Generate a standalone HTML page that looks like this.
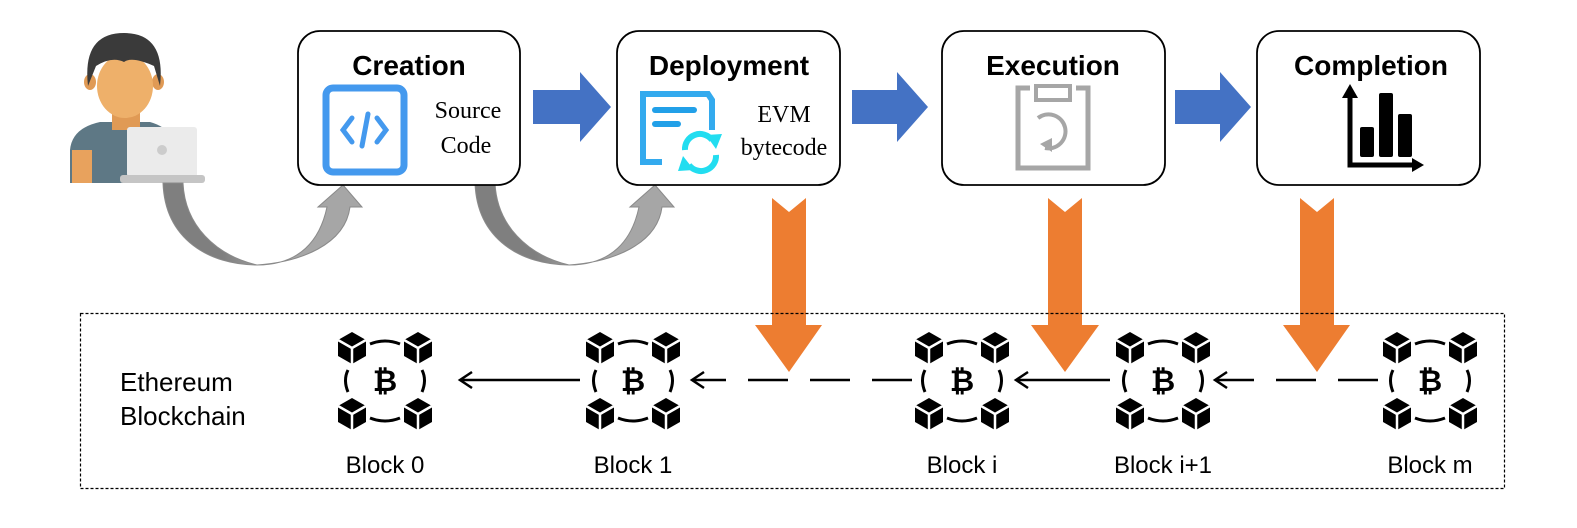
<!DOCTYPE html>
<html><head><meta charset="utf-8"><style>
html,body{margin:0;padding:0;background:#fff;}
svg{display:block}
</style></head><body>
<svg width="1577" height="528" viewBox="0 0 1577 528" xmlns="http://www.w3.org/2000/svg">
<defs>
<g id="cube">
  <polygon points="0,-16 14,-8 14,8 0,16 -14,8 -14,-8" fill="#000"/>
  <polyline points="-14,-8 0,0 14,-8" fill="none" stroke="#fff" stroke-width="2.5"/>
  <line x1="0" y1="0" x2="0" y2="16" stroke="#fff" stroke-width="2.5"/>
</g>
<g id="blk">
  <use href="#cube" x="-33" y="-32"/>
  <use href="#cube" x="33" y="-32"/>
  <use href="#cube" x="-33" y="34"/>
  <use href="#cube" x="33" y="34"/>
  <path d="M-15,-36 Q0,-42 15,-36" fill="none" stroke="#000" stroke-width="3"/>
  <path d="M-15,38 Q0,44 15,38" fill="none" stroke="#000" stroke-width="3"/>
  <path d="M-37,-10 Q-42,0 -37,12" fill="none" stroke="#000" stroke-width="3"/>
  <path d="M37,-10 Q42,0 37,12" fill="none" stroke="#000" stroke-width="3"/>
  <text x="0" y="11" text-anchor="middle" font-family="Liberation Sans, sans-serif" font-weight="bold" font-size="30">₿</text>
</g>
<linearGradient id="gg" x1="0" y1="0" x2="1" y2="0"><stop offset="0.3" stop-color="#7f7f7f"/><stop offset="0.55" stop-color="#a6a6a6"/></linearGradient>
<g id="garrow">
  <path d="M163,183 C165,240 210,265 257,265 C300,265 320,240 327,207 L318,207 L343,185 L362,207 L350,207 C345,245 300,262 257,265 C215,255 185,225 183,183 Z" fill="url(#gg)" stroke="#8a8a8a" stroke-width="1"/>
</g>
</defs>

<!-- person -->
<path d="M70,183 L70,150 Q72,128 100,122 L150,122 Q172,128 180,150 L180,183 Z" fill="#5e7885"/>
<rect x="72" y="150" width="20" height="33" fill="#e8a25d"/>
<rect x="112" y="105" width="28" height="25" fill="#e09a55"/>
<ellipse cx="90" cy="82" rx="6" ry="8" fill="#e09a55"/>
<ellipse cx="158" cy="82" rx="6" ry="8" fill="#e09a55"/>
<ellipse cx="125" cy="86" rx="28" ry="32" fill="#eeb06a"/>
<path d="M88,86 Q82,33 124,33 Q166,33 160,86 L154,66 Q132,56 124,62 Q112,56 96,66 Z" fill="#3a3a3a"/>
<rect x="127" y="127" width="70" height="50" rx="3" fill="#ebebeb"/>
<circle cx="162" cy="150" r="5" fill="#ccc"/>
<rect x="120" y="175" width="85" height="8" rx="3" fill="#c5c5c5"/>

<!-- grey curved arrows -->
<use href="#garrow"/>
<use href="#garrow" x="312" y="0"/>

<!-- boxes -->
<g fill="#fff" stroke="#000" stroke-width="1.8">
<rect x="298" y="31" width="222" height="154" rx="22"/>
<rect x="617" y="31" width="223" height="154" rx="22"/>
<rect x="942" y="31" width="223" height="154" rx="22"/>
<rect x="1257" y="31" width="223" height="154" rx="22"/>
</g>
<g font-family="Liberation Sans, sans-serif" font-weight="bold" font-size="28" text-anchor="middle">
<text x="409" y="75">Creation</text>
<text x="729" y="75">Deployment</text>
<text x="1053" y="75">Execution</text>
<text x="1371" y="75">Completion</text>
</g>
<g font-family="Liberation Serif, serif" font-size="24" text-anchor="middle">
<text x="468" y="118">Source</text>
<text x="466" y="153">Code</text>
<text x="784" y="122">EVM</text>
<text x="784" y="155">bytecode</text>
</g>
<!-- creation icon -->
<rect x="326" y="88" width="78" height="84" rx="7" fill="none" stroke="#4499ee" stroke-width="7"/>
<polyline points="352,118 343,130 352,142" fill="none" stroke="#4499ee" stroke-width="5" stroke-linecap="round"/>
<polyline points="377,118 386,130 377,142" fill="none" stroke="#4499ee" stroke-width="5" stroke-linecap="round"/>
<line x1="368" y1="114" x2="362" y2="146" stroke="#4499ee" stroke-width="5" stroke-linecap="round"/>
<!-- deployment icon -->
<path d="M662,162 L643,162 L643,94 L708,94 L712,100 L712,130" fill="none" stroke="#33aaee" stroke-width="6"/>
<line x1="655" y1="110" x2="694" y2="110" stroke="#22a0e8" stroke-width="6" stroke-linecap="round"/>
<line x1="655" y1="124" x2="678" y2="124" stroke="#22a0e8" stroke-width="6" stroke-linecap="round"/>
<path d="M685,150 A15,15 0 0 1 712,140" fill="none" stroke="#22ddf0" stroke-width="6"/>
<path d="M716,155 A15,15 0 0 1 689,165" fill="none" stroke="#22ddf0" stroke-width="6"/>
<polygon points="706,135 722,134 716,149" fill="#22ddf0"/>
<polygon points="694,170 678,171 683,156" fill="#22ddf0"/>
<!-- execution icon -->
<path d="M1030,88 L1018,88 L1018,168 L1088,168 L1088,88 L1076,88" fill="none" stroke="#a6a6a6" stroke-width="5"/>
<rect x="1036" y="86" width="34" height="14" fill="none" stroke="#a6a6a6" stroke-width="4"/>
<path d="M1045,148 A17,17 0 1 0 1038,118" fill="none" stroke="#a6a6a6" stroke-width="4"/>
<polygon points="1040,144 1052,138 1052,152" fill="#a6a6a6"/>
<!-- completion icon -->
<polyline points="1350,96 1350,165 1414,165" fill="none" stroke="#000" stroke-width="5"/>
<polygon points="1342,98 1350,84 1358,98" fill="#000"/>
<polygon points="1412,158 1424,165 1412,172" fill="#000"/>
<rect x="1360" y="127" width="14" height="30" rx="2" fill="#000"/>
<rect x="1379" y="93" width="14" height="64" rx="2" fill="#000"/>
<rect x="1398" y="114" width="14" height="43" rx="2" fill="#000"/>

<!-- blue arrows -->
<g fill="#4472c4">
<polygon points="533,90 580,90 580,72 611,107 580,142 580,124 533,124"/>
<polygon points="852,90 897,90 897,72 928,107 897,142 897,124 852,124"/>
<polygon points="1175,90 1220,90 1220,72 1251,107 1220,142 1220,124 1175,124"/>
</g>
<!-- orange arrows -->
<g fill="#ed7d31">
<polygon points="772,198 789,212 806,198 806,325 822,325 789,372 755,325 772,325"/>
<polygon points="1048,198 1065,212 1082,198 1082,325 1099,325 1065,372 1031,325 1048,325"/>
<polygon points="1300,198 1317,212 1334,198 1334,325 1350,325 1317,372 1283,325 1300,325"/>
</g>

<!-- dashed box -->
<rect x="80.5" y="313.5" width="1424" height="175" fill="none" stroke="#000" stroke-width="1.2" stroke-dasharray="3,2"/>
<g font-family="Liberation Sans, sans-serif" font-size="26">
<text x="120" y="391">Ethereum</text>
<text x="120" y="425">Blockchain</text>
</g>

<use href="#blk" x="385" y="380"/>
<use href="#blk" x="633" y="380"/>
<use href="#blk" x="962" y="380"/>
<use href="#blk" x="1163" y="380"/>
<use href="#blk" x="1430" y="380"/>

<g stroke="#000" stroke-width="2.5" fill="none">
<line x1="580" y1="380" x2="462" y2="380"/>
<polyline points="472,372 460,380 472,388"/>
<line x1="912" y1="380" x2="694" y2="380" stroke-dasharray="40,22"/>
<polyline points="704,372 692,380 704,388"/>
<line x1="1110" y1="380" x2="1018" y2="380"/>
<polyline points="1028,372 1016,380 1028,388"/>
<line x1="1378" y1="380" x2="1217" y2="380" stroke-dasharray="40,22"/>
<polyline points="1227,372 1215,380 1227,388"/>
</g>
<g font-family="Liberation Sans, sans-serif" font-size="24" text-anchor="middle">
<text x="385" y="473">Block 0</text>
<text x="633" y="473">Block 1</text>
<text x="962" y="473">Block i</text>
<text x="1163" y="473">Block i+1</text>
<text x="1430" y="473">Block m</text>
</g>
</svg>
</body></html>
